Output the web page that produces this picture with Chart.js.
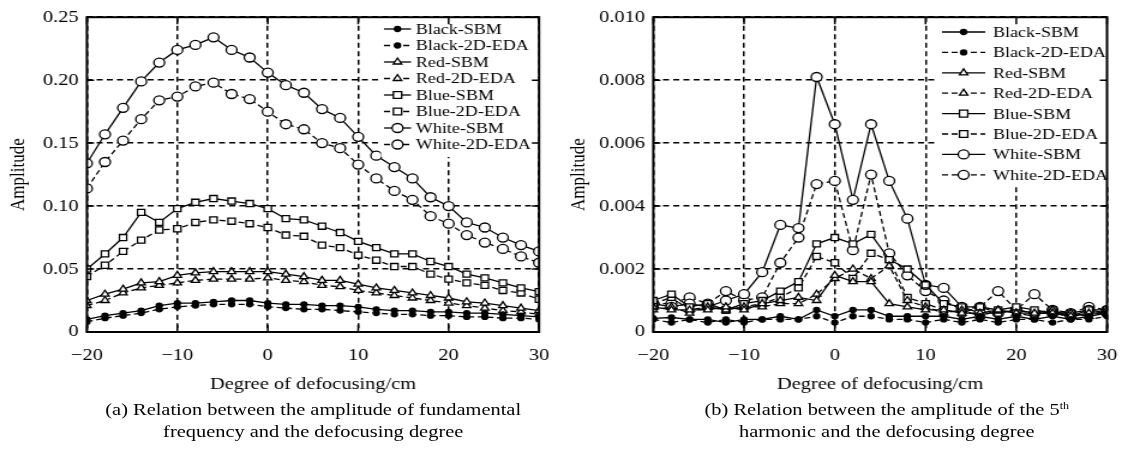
<!DOCTYPE html>
<html>
<head>
<meta charset="utf-8">
<script src="https://cdn.jsdelivr.net/npm/chart.js@4.4.1/dist/chart.umd.min.js"></script>
<style>
  body { margin: 0; background: #fff; }
  #fig { position: absolute; left: 0; top: 0; width: 944px; height: 454px; transform: scaleX(1.2); transform-origin: 0 0; }
  .box { position: absolute; top: 0; width: 472px; height: 400px; }
  .cap { position: absolute; width: 520px; text-align: center; font: 17px "Liberation Serif", serif; line-height: 22px; color: #000; top: 399px; }
  sup { font-size: 10px; vertical-align: 6px; line-height: 0; }
</style>
</head>
<body>
<div id="fig">
  <div class="box" style="left:0"><canvas id="chartA"></canvas></div>
  <div class="box" style="left:472px"><canvas id="chartB"></canvas></div>
  <div class="cap" style="left:1px">(a) Relation between the amplitude of fundamental<br>frequency and the defocusing degree</div>
  <div class="cap" style="left:479px">(b) Relation between the amplitude of the 5<sup>th</sup><br>harmonic and the defocusing degree</div>
</div>
<script>
// defocusing degree (cm)
const xs = [-20, -18, -16, -14, -12, -10, -8, -6, -4, -2, 0, 2, 4, 6, 8, 10, 12, 14, 16, 18, 20, 22, 24, 26, 28, 30];
const seriesNames = ['Black-SBM', 'Black-2D-EDA', 'Red-SBM', 'Red-2D-EDA', 'Blue-SBM', 'Blue-2D-EDA', 'White-SBM', 'White-2D-EDA'];

// (a) fundamental frequency amplitude
const blackSbmA = [0.010, 0.013, 0.015, 0.017, 0.021, 0.023, 0.023, 0.024, 0.025, 0.025, 0.023, 0.022, 0.022, 0.021, 0.021, 0.020, 0.018, 0.017, 0.017, 0.016, 0.016, 0.015, 0.015, 0.014, 0.013, 0.012];
const black2dA = [0.008, 0.011, 0.013, 0.015, 0.018, 0.020, 0.021, 0.022, 0.022, 0.022, 0.020, 0.019, 0.018, 0.018, 0.017, 0.016, 0.015, 0.014, 0.014, 0.013, 0.013, 0.012, 0.012, 0.011, 0.011, 0.010];
const redSbmA = [0.025, 0.030, 0.034, 0.039, 0.040, 0.045, 0.047, 0.048, 0.048, 0.048, 0.048, 0.046, 0.044, 0.041, 0.041, 0.038, 0.035, 0.033, 0.031, 0.029, 0.027, 0.024, 0.023, 0.021, 0.019, 0.017];
const red2dA = [0.021, 0.025, 0.031, 0.035, 0.037, 0.039, 0.041, 0.042, 0.042, 0.042, 0.043, 0.041, 0.040, 0.037, 0.036, 0.033, 0.031, 0.029, 0.027, 0.025, 0.023, 0.021, 0.019, 0.017, 0.016, 0.014];
const blueSbmA = [0.050, 0.062, 0.075, 0.095, 0.087, 0.098, 0.103, 0.106, 0.104, 0.102, 0.098, 0.090, 0.089, 0.084, 0.079, 0.072, 0.067, 0.062, 0.062, 0.056, 0.052, 0.046, 0.043, 0.039, 0.035, 0.032];
const blue2dA = [0.044, 0.053, 0.064, 0.073, 0.081, 0.082, 0.087, 0.089, 0.088, 0.086, 0.083, 0.077, 0.076, 0.069, 0.067, 0.061, 0.057, 0.052, 0.052, 0.046, 0.042, 0.039, 0.037, 0.033, 0.031, 0.026];
const whiteSbmA = [0.134, 0.157, 0.178, 0.199, 0.214, 0.224, 0.228, 0.234, 0.224, 0.218, 0.206, 0.196, 0.190, 0.177, 0.170, 0.155, 0.140, 0.131, 0.122, 0.107, 0.100, 0.087, 0.083, 0.075, 0.069, 0.064];
const white2dA = [0.114, 0.135, 0.152, 0.169, 0.184, 0.187, 0.195, 0.198, 0.189, 0.185, 0.175, 0.165, 0.161, 0.150, 0.146, 0.133, 0.122, 0.112, 0.105, 0.092, 0.086, 0.077, 0.071, 0.066, 0.060, 0.055];

// (b) 5th harmonic amplitude
const blackSbmB = [0.00043, 0.00046, 0.0004, 0.0004, 0.0003, 0.0004, 0.0004, 0.0005, 0.0004, 0.0007, 0.0005, 0.0007, 0.0007, 0.0005, 0.0005, 0.0005, 0.0005, 0.0004, 0.0005, 0.0004, 0.0005, 0.0004, 0.0005, 0.0004, 0.0005, 0.0006];
const black2dB = [0.0004, 0.0003, 0.0004, 0.0003, 0.0004, 0.0003, 0.0004, 0.0004, 0.0004, 0.0005, 0.0003, 0.0005, 0.0005, 0.0004, 0.0004, 0.0003, 0.0004, 0.0003, 0.0004, 0.0003, 0.0004, 0.0004, 0.0003, 0.0004, 0.0004, 0.0005];
const redSbmB = [0.0008, 0.0007, 0.0007, 0.0007, 0.0008, 0.0007, 0.0009, 0.0010, 0.0011, 0.0010, 0.0018, 0.0016, 0.0016, 0.0009, 0.0008, 0.0007, 0.0007, 0.0006, 0.0006, 0.0007, 0.0006, 0.0006, 0.0006, 0.0005, 0.0006, 0.0006];
const red2dB = [0.0007, 0.0008, 0.0006, 0.0008, 0.0007, 0.0008, 0.0008, 0.0009, 0.0009, 0.0012, 0.0017, 0.0020, 0.0017, 0.0021, 0.0010, 0.0008, 0.0006, 0.0007, 0.0005, 0.0007, 0.0006, 0.0005, 0.0007, 0.0006, 0.0005, 0.0007];
const blueSbmB = [0.0010, 0.0012, 0.0008, 0.0009, 0.0007, 0.0009, 0.0010, 0.0013, 0.0016, 0.0028, 0.0030, 0.0028, 0.0031, 0.0023, 0.0020, 0.0015, 0.0009, 0.0008, 0.0008, 0.0007, 0.0008, 0.0007, 0.0006, 0.0006, 0.0007, 0.0007];
const blue2dB = [0.0009, 0.0011, 0.0007, 0.0008, 0.0007, 0.0008, 0.0009, 0.0011, 0.0014, 0.0024, 0.0022, 0.0017, 0.0025, 0.0023, 0.0011, 0.0009, 0.0007, 0.0006, 0.0008, 0.0006, 0.0007, 0.0006, 0.0007, 0.0005, 0.0006, 0.0006];
const whiteSbmB = [0.0009, 0.0008, 0.0009, 0.0008, 0.0010, 0.0012, 0.0019, 0.0034, 0.0033, 0.0081, 0.0066, 0.0042, 0.0066, 0.0048, 0.0036, 0.0015, 0.0014, 0.0008, 0.0006, 0.0006, 0.0007, 0.0006, 0.0006, 0.0005, 0.0007, 0.0006];
const white2dB = [0.0009, 0.0009, 0.0011, 0.0009, 0.0013, 0.0010, 0.0011, 0.0022, 0.0030, 0.0047, 0.0048, 0.0026, 0.0050, 0.0025, 0.0018, 0.0013, 0.0010, 0.0007, 0.0008, 0.0013, 0.0007, 0.0012, 0.0007, 0.0006, 0.0008, 0.0007];

// ticks
const xTickVals = [-20, -10, 0, 10, 20, 30];
const xTickLabels = ['\u221220', '\u221210', '0', '10', '20', '30'];
const yTickValsA = [0, 0.05, 0.10, 0.15, 0.20, 0.25];
const yTickLabelsA = ['0', '0.05', '0.10', '0.15', '0.20', '0.25'];
const yTickValsB = [0, 0.002, 0.004, 0.006, 0.008, 0.010];
const yTickLabelsB = ['0', '0.002', '0.004', '0.006', '0.008', '0.010'];

const serif = '"Liberation Serif", "Times New Roman", serif';
const styles = [
  { pointStyle: 'circle', radius: 2.5, fill: '#000', dash: [] },
  { pointStyle: 'circle', radius: 2.5, fill: '#000', dash: [5, 3] },
  { pointStyle: 'triangle', radius: 4, fill: '#fff', dash: [] },
  { pointStyle: 'triangle', radius: 4, fill: '#fff', dash: [5, 3] },
  { pointStyle: 'rect', radius: 4.3, fill: '#fff', dash: [] },
  { pointStyle: 'rect', radius: 4.3, fill: '#fff', dash: [5, 3] },
  { pointStyle: 'circle', radius: 4.5, fill: '#fff', dash: [] },
  { pointStyle: 'circle', radius: 4.5, fill: '#fff', dash: [5, 3] }
];

function drawMarker(ctx, style, r, x, y) {
  ctx.beginPath();
  if (style === 'rect') {
    const h = r * 0.8;
    ctx.rect(x - h, y - h, 2 * h, 2 * h);
  } else if (style === 'triangle') {
    ctx.moveTo(x, y - r);
    ctx.lineTo(x + r * 0.87, y + r * 0.5);
    ctx.lineTo(x - r * 0.87, y + r * 0.5);
    ctx.closePath();
  } else {
    ctx.arc(x, y, r, 0, Math.PI * 2);
  }
  ctx.fill();
  ctx.stroke();
}

const framePlugin = {
  id: 'frame',
  afterDatasetsDraw(chart, args, opts) {
    const ctx = chart.ctx;
    const L = opts.legend;
    ctx.save();
    ctx.fillStyle = '#fff';
    ctx.fillRect(L.box[0], L.box[1], L.box[2], L.box[3]);
    ctx.font = '15px ' + serif;
    ctx.textBaseline = 'middle';
    chart.data.datasets.forEach((ds, i) => {
      const y = L.y0 + i * L.dy;
      ctx.strokeStyle = '#000';
      ctx.lineWidth = ds.borderWidth;
      ctx.setLineDash(ds.borderDash);
      ctx.beginPath();
      ctx.moveTo(L.x0, y);
      ctx.lineTo(L.x1, y);
      ctx.stroke();
      ctx.setLineDash([]);
      ctx.fillStyle = ds.pointBackgroundColor;
      ctx.lineWidth = ds.pointBorderWidth;
      drawMarker(ctx, ds.pointStyle, ds.pointRadius, (L.x0 + L.x1) / 2, y);
      ctx.fillStyle = '#000';
      ctx.fillText(ds.label, L.tx, y + 1);
    });
    ctx.restore();
  },
  afterDraw(chart) {
    const ctx = chart.ctx, a = chart.chartArea;
    const xs_ = chart.scales.x, ys_ = chart.scales.y;
    ctx.save();
    ctx.strokeStyle = '#000';
    ctx.lineWidth = 1.5;
    ctx.beginPath();
    xs_.ticks.forEach(t => {
      const px = xs_.getPixelForValue(t.value);
      ctx.moveTo(px, a.bottom); ctx.lineTo(px, a.bottom - 7);
      ctx.moveTo(px, a.top); ctx.lineTo(px, a.top + 7);
    });
    ys_.ticks.forEach(t => {
      const py = ys_.getPixelForValue(t.value);
      ctx.moveTo(a.left, py); ctx.lineTo(a.left + 6, py);
      ctx.moveTo(a.right, py); ctx.lineTo(a.right - 6, py);
    });
    ctx.stroke();
    ctx.lineWidth = 2;
    ctx.strokeRect(a.left, a.top, a.right - a.left, a.bottom - a.top);
    ctx.restore();
  }
};

function makeChart(id, series, yMax, yVals, yLabels, rightPad, yTitlePad, legend) {
  const datasets = series.map((vals, i) => ({
    label: seriesNames[i],
    data: vals.map((v, k) => ({ x: xs[k], y: v })),
    borderColor: '#000',
    borderWidth: 1.3,
    borderDash: styles[i].dash,
    pointStyle: styles[i].pointStyle,
    pointRadius: styles[i].radius,
    pointBackgroundColor: styles[i].fill,
    pointBorderColor: '#000',
    pointBorderWidth: 1.3,
    tension: 0,
    fill: false
  }));
  return new Chart(document.getElementById(id), {
    type: 'line',
    data: { datasets },
    options: {
      responsive: true,
      maintainAspectRatio: false,
      animation: false,
      layout: { padding: { top: 16, right: rightPad, left: 0, bottom: 0 } },
      plugins: { legend: { display: false }, tooltip: { enabled: false }, frame: { legend } },
      scales: {
        x: {
          type: 'linear', min: -20, max: 30,
          afterBuildTicks: s => { s.ticks = xTickVals.map(v => ({ value: v })); },
          afterFit: s => { s.height = 68; },
          ticks: { callback: (v, i) => xTickLabels[i], color: '#000', font: { family: serif, size: 17 }, padding: 13, maxRotation: 0, autoSkip: false },
          grid: { color: '#000', lineWidth: 1.5, drawTicks: false },
          border: { display: false, dash: [5, 3.5] },
          title: { display: true, text: 'Degree of defocusing/cm', color: '#000', font: { family: serif, size: 17 }, padding: { top: 0, bottom: 5 } }
        },
        y: {
          min: 0, max: yMax,
          afterBuildTicks: s => { s.ticks = yVals.map(v => ({ value: v })); },
          afterFit: s => { s.width = 72.4; },
          ticks: { callback: (v, i) => yLabels[i], color: '#000', font: { family: serif, size: 17 }, padding: 7 },
          grid: { color: '#000', lineWidth: 1.5, drawTicks: false },
          border: { display: false, dash: [5, 3.5] },
          title: { display: true, text: 'Amplitude', color: '#000', font: { family: serif, size: 17 }, padding: { top: yTitlePad, bottom: 0 } }
        }
      }
    },
    plugins: [framePlugin]
  });
}

makeChart('chartA',
  [blackSbmA, black2dA, redSbmA, red2dA, blueSbmA, blue2dA, whiteSbmA, white2dA],
  0.25, yTickValsA, yTickLabelsA, 22.8, 5.5,
  { box: [317.5, 17, 131, 140], x0: 320, x1: 342.5, tx: 346.5, y0: 29, dy: 16.5 });

makeChart('chartB',
  [blackSbmB, black2dB, redSbmB, red2dB, blueSbmB, blue2dB, whiteSbmB, white2dB],
  0.010, yTickValsB, yTickLabelsB, 11.5, 0,
  { box: [309, 17, 151, 170], x0: 313, x1: 349, tx: 355.5, y0: 32, dy: 20.4 });
</script>
</body>
</html>
